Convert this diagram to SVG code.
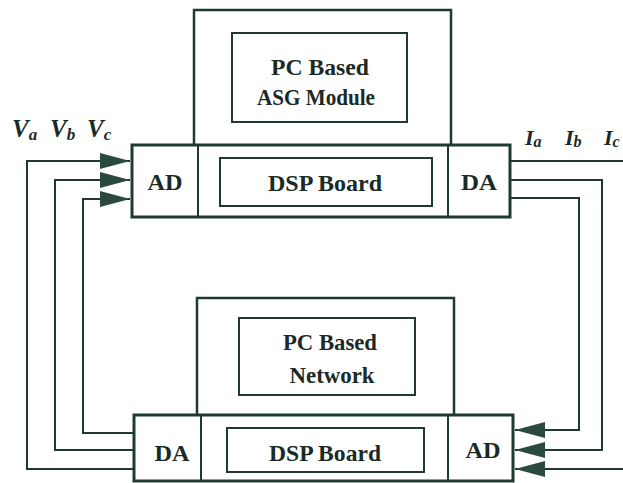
<svg xmlns="http://www.w3.org/2000/svg" width="623" height="483" viewBox="0 0 623 483">
<style>
.box{fill:none;stroke:#1f3a32;stroke-width:2.5}
.board{fill:none;stroke:#1f3a32;stroke-width:3}
.inner{fill:none;stroke:#1f3a32;stroke-width:2}
.t{font-weight:bold;font-size:24px;fill:#1a2a26;text-anchor:middle}
.it{font-style:italic;font-weight:bold;fill:#1a2a26}
.wire{fill:none;stroke:#1f3a32;stroke-width:2}
</style>
<defs>
<marker id="arr" markerUnits="userSpaceOnUse" markerWidth="32" markerHeight="18" viewBox="0 0 32 18" refX="30" refY="9" orient="auto">
<path d="M0,1 L30,9 L0,17 Z" fill="#2a4a3e"/>
</marker>
</defs>
<rect width="623" height="483" fill="#ffffff"/>

<g id="asg-module" font-family="Liberation Serif, serif">
<path class="box" d="M194,145 V10 H451 V145"/>
<rect class="inner" x="232" y="33" width="175" height="89"/>
<text class="t" x="320" y="75" textLength="98" lengthAdjust="spacingAndGlyphs">PC Based</text>
<text class="t" x="316" y="105" textLength="118" lengthAdjust="spacingAndGlyphs">ASG Module</text>
</g>

<g id="top-board" font-family="Liberation Serif, serif">
<rect class="board" x="132" y="145" width="378" height="72"/>
<line class="inner" x1="198" y1="145" x2="198" y2="217"/>
<line class="inner" x1="448" y1="145" x2="448" y2="217"/>
<rect class="inner" x="220" y="158" width="212" height="48"/>
<text class="t" x="165" y="190" textLength="35" lengthAdjust="spacingAndGlyphs">AD</text>
<text class="t" x="325" y="191" textLength="114" lengthAdjust="spacingAndGlyphs">DSP Board</text>
<text class="t" x="479" y="190" textLength="36" lengthAdjust="spacingAndGlyphs">DA</text>
</g>

<g id="network" font-family="Liberation Serif, serif">
<path class="box" d="M197,415 V298 H454 V415"/>
<rect class="inner" x="239" y="318" width="176" height="77"/>
<text class="t" x="330" y="350" textLength="94" lengthAdjust="spacingAndGlyphs">PC Based</text>
<text class="t" x="332" y="383" textLength="85" lengthAdjust="spacingAndGlyphs">Network</text>
</g>

<g id="bottom-board" font-family="Liberation Serif, serif">
<rect class="board" x="134" y="415" width="379" height="66"/>
<line class="inner" x1="201" y1="415" x2="201" y2="481"/>
<line class="inner" x1="448" y1="415" x2="448" y2="481"/>
<rect class="inner" x="227" y="428" width="197" height="44"/>
<text class="t" x="172" y="461" textLength="35" lengthAdjust="spacingAndGlyphs">DA</text>
<text class="t" x="325" y="461" textLength="112" lengthAdjust="spacingAndGlyphs">DSP Board</text>
<text class="t" x="483" y="458" textLength="35" lengthAdjust="spacingAndGlyphs">AD</text>
</g>

<g id="labels" font-family="Liberation Serif, serif">
<text class="it" x="12" y="137" font-size="25">V<tspan font-size="17" dy="3">a</tspan></text>
<text class="it" x="50" y="137" font-size="25">V<tspan font-size="17" dy="3">b</tspan></text>
<text class="it" x="87" y="137" font-size="25">V<tspan font-size="17" dy="3">c</tspan></text>
<text class="it" x="525" y="145" font-size="22">I<tspan font-size="16" dy="2">a</tspan></text>
<text class="it" x="565" y="145" font-size="22">I<tspan font-size="16" dy="2">b</tspan></text>
<text class="it" x="604" y="145" font-size="22">I<tspan font-size="16" dy="2">c</tspan></text>
</g>

<g id="connectors">
<path class="wire" d="M134,469 H27 V161 H130" marker-end="url(#arr)"/>
<path class="wire" d="M134,450 H55 V180 H130" marker-end="url(#arr)"/>
<path class="wire" d="M134,433 H83 V199 H130" marker-end="url(#arr)"/>
<path class="wire" d="M510,161 H627 V469 H515" marker-end="url(#arr)"/>
<path class="wire" d="M510,180 H602 V450 H515" marker-end="url(#arr)"/>
<path class="wire" d="M510,198 H579 V430 H515" marker-end="url(#arr)"/>
</g>
</svg>
